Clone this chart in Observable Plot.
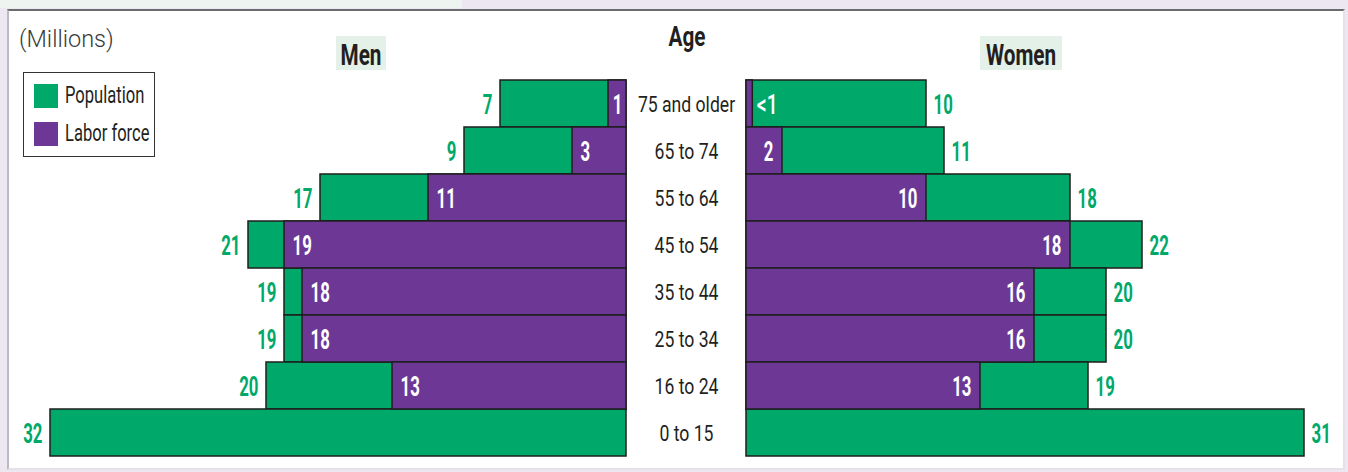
<!DOCTYPE html>
<html>
<head>
<meta charset="utf-8">
<script src="https://cdn.jsdelivr.net/npm/d3@7"></script>
<script src="https://cdn.jsdelivr.net/npm/@observablehq/plot@0.6"></script>
<style>
  html, body { margin: 0; padding: 0; background: #ece7f0; }
  #wrap { position: relative; width: 1348px; height: 472px; overflow: hidden;
    font-family: Roboto, "Liberation Sans", sans-serif; color: #231f20; }
  .strip { position: absolute; left: 0; top: 0; width: 462px; height: 8px; background: #eef5f0; }
  .panel { position: absolute; left: 7px; top: 9px; width: 1334px; height: 457px; background: #fff;
    border-top: 2px solid #6b6b6b; border-left: 2px solid #bdb8c2; border-right: 2px solid #e4e2e6; border-bottom: 2px solid #e4e2e6; }
  .abs { position: absolute; white-space: nowrap; }
  .hdr { background: #e4f1e9; height: 34px; overflow: visible; }
  .hdr span { position: absolute; left: 50%; top: 0; font-size: 30px; font-weight: 700; line-height: 38px;
    transform: translateX(-50%) scaleX(0.69); transform-origin: center; white-space: nowrap; }
  .legend { position: absolute; left: 23px; top: 72px; width: 130px; height: 83px; border: 1.5px solid #333; background: #fff; }
  .sw { position: absolute; left: 10px; width: 24px; height: 24px; }
  .lt { position: absolute; left: 41px; font-size: 23px; line-height: 24px; white-space: nowrap;
    transform: scaleX(0.72); transform-origin: left center; }
  #chart { position: absolute; left: 0; top: 0; }
</style>
</head>
<body>
<div id="wrap">
  <div class="strip"></div>
  <div class="panel"></div>
  <div class="abs" style="left:19px; top:25px; font-size:24px; font-weight:300; color:#3a3a3a; transform:scaleX(0.98); transform-origin:left;">(Millions)</div>
  <div class="abs hdr" style="left:336px; top:36px; width:50px;"><span>Men</span></div>
  <div class="abs hdr" style="left:980px; top:36px; width:82px;"><span>Women</span></div>
  <div class="abs" style="left:647px; top:20px; width:80px; text-align:center;"><span style="display:inline-block; font-size:28px; font-weight:700; transform:scaleX(0.74);">Age</span></div>
  <div class="legend">
    <div class="sw" style="top:11px; background:#00a86a;"></div>
    <div class="lt" style="top:11px;">Population</div>
    <div class="sw" style="top:49px; background:#6d3895;"></div>
    <div class="lt" style="top:49px;">Labor force</div>
  </div>
  <div id="chart"></div>
</div>
<script>
const ages = ["75 and older", "65 to 74", "55 to 64", "45 to 54", "35 to 44", "25 to 34", "16 to 24", "0 to 15"];
const menPopulation = [7, 9, 17, 21, 19, 19, 20, 32];
const menLabor = [1, 3, 11, 19, 18, 18, 13, null];
const womenPopulation = [10, 11, 18, 22, 20, 20, 19, 31];
const womenLabor = [0.35, 2, 10, 18, 16, 16, 13, null];
const womenLaborLabels = ["<1", "2", "10", "18", "16", "16", "13", null];

const GREEN = "#00a86a";
const PURPLE = "#6d3895";
const EDGE = "#1e1e1e";
const h = 60 / 18;  // half of the central gap, in millions

const rows = ages.map((age, i) => ({
  age,
  menPop: menPopulation[i],
  menLab: menLabor[i],
  womenPop: womenPopulation[i],
  womenLab: womenLabor[i],
  womenLabLabel: womenLaborLabels[i]
}));
const withMenLab = rows.filter(d => d.menLab != null);
const withWomenLab = rows.filter(d => d.womenLab != null);

const AGE_FS = 22, VAL_FS = 28, SMALL_FS = 27;
const val = { fontSize: VAL_FS, fontWeight: 700, dy: 1 };

const chart = Plot.plot({
  width: 1348,
  height: 472,
  marginTop: 78,
  marginBottom: 15,
  marginLeft: 0,
  marginRight: 0,
  style: { background: "transparent", fontFamily: "Roboto, 'Liberation Sans', sans-serif", overflow: "visible" },
  x: { domain: [-686 / 18, (1348 - 686) / 18], axis: null },
  y: { domain: ages, padding: 0, axis: null },
  marks: [
    Plot.rectX(rows, { y: "age", x1: -h, x2: d => -h - d.menPop, fill: GREEN, stroke: EDGE, strokeWidth: 1.5 }),
    Plot.rectX(withMenLab, { y: "age", x1: -h, x2: d => -h - d.menLab, fill: PURPLE, stroke: EDGE, strokeWidth: 1.5 }),
    Plot.rectX(rows, { y: "age", x1: h, x2: d => h + d.womenPop, fill: GREEN, stroke: EDGE, strokeWidth: 1.5 }),
    Plot.rectX(withWomenLab, { y: "age", x1: h, x2: d => h + d.womenLab, fill: PURPLE, stroke: EDGE, strokeWidth: 1.5 }),
    Plot.text(rows, { y: "age", x: 0, text: "age", fontSize: AGE_FS, fill: "#231f20", dy: 1 }),
    Plot.text(rows, { ...val, y: "age", x: d => -h - d.menPop, text: d => String(d.menPop), textAnchor: "end", dx: -8, fill: GREEN }),
    Plot.text(rows, { ...val, y: "age", x: d => h + d.womenPop, text: d => String(d.womenPop), textAnchor: "start", dx: 7, fill: GREEN }),
    Plot.text(withMenLab.filter(d => d.menLab >= 2), { ...val, y: "age", x: d => -h - d.menLab, text: d => String(d.menLab), textAnchor: "start", dx: 8, fill: "#fff" }),
    Plot.text(withMenLab.filter(d => d.menLab < 2), { ...val, y: "age", x: d => -h - d.menLab / 2, text: d => String(d.menLab), textAnchor: "middle", fill: "#fff" }),
    Plot.text(withWomenLab.filter(d => d.womenLab >= 1), { ...val, y: "age", x: d => h + d.womenLab, text: "womenLabLabel", textAnchor: "end", dx: -9, fill: "#fff" }),
    Plot.text(withWomenLab.filter(d => d.womenLab < 1), { ...val, y: "age", x: d => h + d.womenLab, text: "womenLabLabel", textAnchor: "start", dx: 4, fill: "#fff", fontWeight: 500, fontSize: SMALL_FS })
  ]
});

// Condense the text horizontally (the reference uses a condensed face)
const squeeze = { [AGE_FS]: 0.8, [VAL_FS]: 0.6, [SMALL_FS]: 0.72 };
d3.select(chart).selectAll("text").each(function () {
  const holder = this.closest("[font-size]");
  const fs = holder ? parseFloat(holder.getAttribute("font-size")) : null;
  const s = squeeze[fs];
  if (!s) return;
  const t = this.getAttribute("transform");
  if (t) {
    this.setAttribute("transform", `${t} scale(${s},1)`);
  } else {
    const x = +this.getAttribute("x") || 0, y = +this.getAttribute("y") || 0;
    this.setAttribute("transform", `translate(${x},${y}) scale(${s},1) translate(${-x},${-y})`);
  }
});
document.getElementById("chart").appendChild(chart);
</script>
</body>
</html>
